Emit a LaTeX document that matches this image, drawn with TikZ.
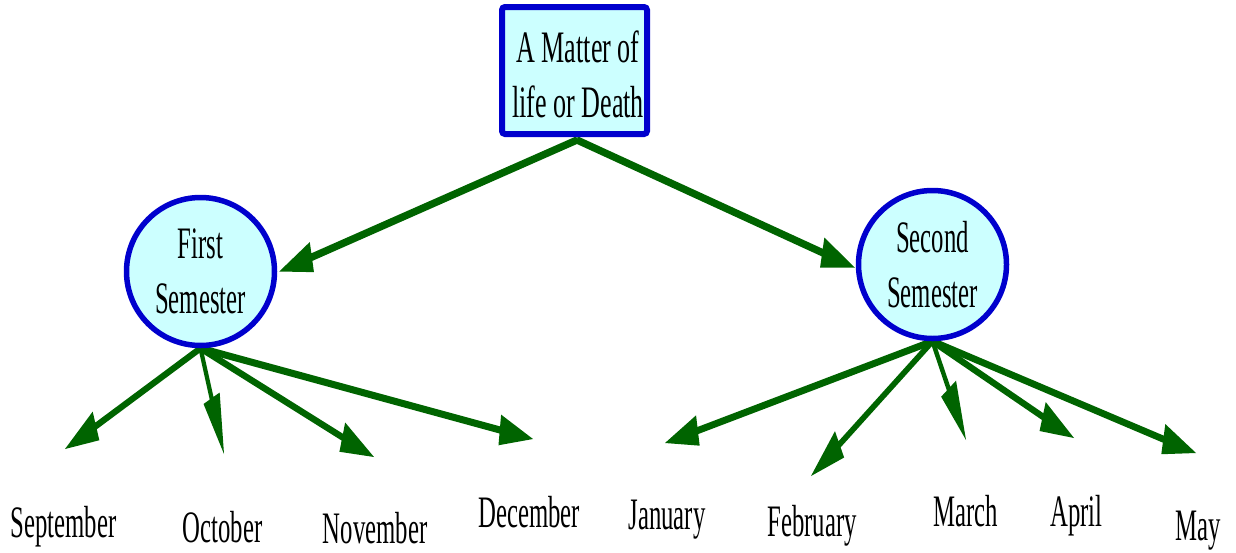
\documentclass[tikz,border=0pt]{standalone}
\usepackage{fontspec}
\setmainfont{Liberation Serif}
\newfontfamily\condfont[FakeStretch=0.55]{Liberation Serif}
\newfontfamily\boxfont[FakeStretch=0.58]{Liberation Serif}
\usetikzlibrary{calc}
\definecolor{gcol}{RGB}{0,100,0}
\definecolor{bcol}{RGB}{0,0,205}
\definecolor{fcol}{RGB}{204,255,255}
\def\gsx{0.56}
\def\ghl{60}
\def\gHW{15.5}
\newcommand\garrow[3][3.6]{%
\fill[gcol] let \p1=(#2), \p2=(#3),
  \n1={veclen((\x2-\x1)/\gsx/100,(\y2-\y1)/100)},
  \n2={(\x2-\x1)/\gsx/100/\n1},
  \n3={(\y2-\y1)/100/\n1}
 in ({\x1-#1*\n3*\gsx},{\y1+#1*\n2})
 -- ({\x2-\ghl*\n2*\gsx-#1*\n3*\gsx},{\y2-\ghl*\n3+#1*\n2})
 -- ({\x2-\ghl*\n2*\gsx-\gHW*\n3*\gsx},{\y2-\ghl*\n3+\gHW*\n2})
 -- (\x2,\y2)
 -- ({\x2-\ghl*\n2*\gsx+\gHW*\n3*\gsx},{\y2-\ghl*\n3-\gHW*\n2})
 -- ({\x2-\ghl*\n2*\gsx+#1*\n3*\gsx},{\y2-\ghl*\n3-#1*\n2})
 -- ({\x1+#1*\n3*\gsx},{\y1-#1*\n2})
 -- cycle;}
\pgfdeclarelayer{bg}
\pgfsetlayers{bg,main}
\tikzset{
  txt/.style={font=\condfont\fontsize{45pt}{55pt}\selectfont, inner sep=0pt, align=center},
  topbox/.style={draw=bcol, fill=fcol, line width=6pt, rounded corners=3pt, minimum width=145pt, minimum height=127pt, inner sep=0pt},
  sem/.style={circle, draw=bcol, fill=fcol, line width=5.5pt, minimum size=148pt, inner sep=0pt, txt},
  month/.style={txt, anchor=base},
}
\begin{document}
\begin{tikzpicture}[x=1pt,y=-1pt]
\useasboundingbox (0,0) rectangle (1236,552);
\node[topbox] (box) at (574.5,70.5) {};
\node[txt, font=\boxfont\fontsize{45pt}{55pt}\selectfont] (boxtext) at (578,74) {A Matter of\\life or Death};
\node[sem] (c1) at (200.5,271.5) {First\\Semester};
\node[sem] (c2) at (932.5,264.5) {Second\\Semester};

\node[month] (sep) at (63.5,537) {September};
\node[month] (oct) at (222.5,542) {October};
\node[month] (nov) at (375,543) {November};
\node[month] (dec) at (529,527) {December};
\node[month] (jan) at (667,529) {January};
\node[month] (feb) at (812,536) {February};
\node[month] (mar) at (965.5,526) {March};
\node[month] (apr) at (1076.5,526) {April};
\node[month] (may) at (1198,540) {May};

\coordinate (top) at (577,140);
\coordinate (t1) at ([xshift=2pt]c1.east);
\coordinate (t2) at ([xshift=-1pt,yshift=-3pt]c2.west);
\coordinate (tSep) at (65,449);
\coordinate (tOct) at (224,454);
\coordinate (tNov) at (374,457);
\coordinate (tDec) at (533,439);
\coordinate (tJan) at (665,443);
\coordinate (tFeb) at (811,476);
\coordinate (tMar) at (966,440);
\coordinate (tApr) at (1074,438);
\coordinate (tMay) at (1196,453);

\begin{pgfonlayer}{bg}
\garrow[3.9]{top}{t1}
\garrow[3.9]{top}{t2}
\garrow{c1.south}{tSep}
\garrow{c1.south}{tOct}
\garrow{c1.south}{tNov}
\garrow{c1.south}{tDec}
\garrow{c2.south}{tJan}
\garrow{c2.south}{tFeb}
\garrow{c2.south}{tMar}
\garrow{c2.south}{tApr}
\garrow{c2.south}{tMay}
\end{pgfonlayer}
\end{tikzpicture}
\end{document}
